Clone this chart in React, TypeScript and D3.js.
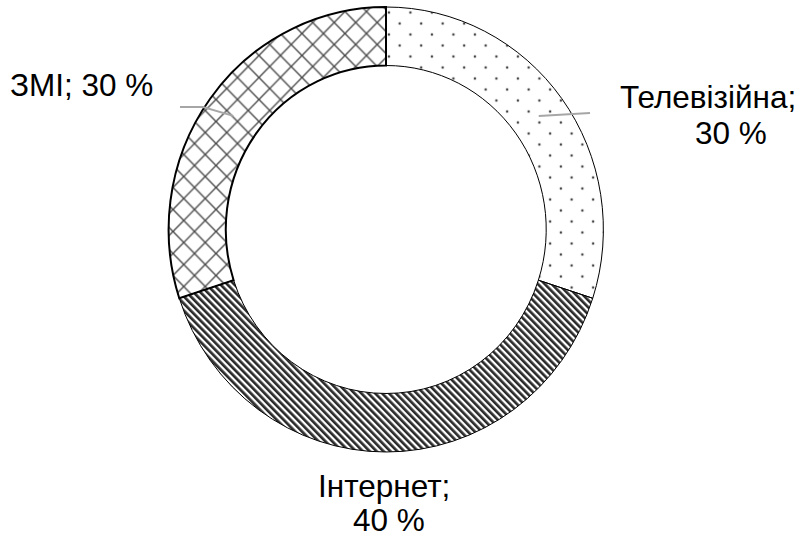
import React from "react";
import * as d3 from "d3";

const categories = ["Телевізійна", "Інтернет", "ЗМІ"];
const values = [30, 40, 30];
const patterns = ["dots", "stripes", "cross"];

const W = 801;
const H = 538;
const cx = 386;
const cy = 229.5;
const sx = 0.977;
const rOuter = 222.5;
const rInner = 164;

// label layout (screen coords): lines and their positions
const labelLayout = [
  { lines: [{ t: "Телевізійна;", x: 620, y: 108 }, { t: "30 %", x: 695, y: 144 }], leader: [[590, 113]] },
  { lines: [{ t: "Інтернет;", x: 318, y: 497 }, { t: "40 %", x: 353, y: 531 }], leader: null },
  { lines: [{ t: "ЗМІ; 30 %", x: 10, y: 96 }], leader: [[203, 107], [180, 107]] },
];

export default function App() {
  const pie = d3.pie<number>().sort(null).startAngle(0).endAngle(2 * Math.PI);
  const arcs = pie(values);
  const arcGen = d3.arc<d3.PieArcDatum<number>>().innerRadius(rInner).outerRadius(rOuter);
  const midR = (rInner + rOuter) / 2;

  const centroid = (a: d3.PieArcDatum<number>) => {
    const m = (a.startAngle + a.endAngle) / 2;
    return [cx + Math.sin(m) * midR * sx, cy - Math.cos(m) * midR];
  };

  const strokeW = [1, 1, 2];

  return (
    <svg width={W} height={H} style={{ position: "absolute", left: 0, top: 0, background: "#fff" }}
      fontFamily="'Liberation Sans', Arial, sans-serif">
      <defs>
        <pattern id="dots" patternUnits="userSpaceOnUse" width={22} height={22} x={3} y={3}>
          <circle cx={0} cy={0} r={1.3} fill="#444" />
          <circle cx={22} cy={0} r={1.3} fill="#444" />
          <circle cx={0} cy={22} r={1.3} fill="#444" />
          <circle cx={22} cy={22} r={1.3} fill="#444" />
          <circle cx={11} cy={11} r={1.3} fill="#444" />
        </pattern>
        <pattern id="stripes" patternUnits="userSpaceOnUse" width={5} height={5} patternTransform="rotate(-45)">
          <rect x={0} y={0} width={2.7} height={5} fill="#2a2a2a" />
        </pattern>
        <pattern id="cross" patternUnits="userSpaceOnUse" width={22} height={22} x={2} y={2}>
          <path d="M0,0L22,22M22,0L0,22" stroke="#4a4a4a" strokeWidth={1.4} fill="none" />
        </pattern>
      </defs>
      <rect width={W} height={H} fill="#fff" />
      <g transform={`translate(${cx},${cy}) scale(${sx},1)`}>
        {arcs.map((a, i) => (
          <path key={categories[i]} d={arcGen(a) || ""} fill={`url(#${patterns[i]})`}
            stroke="#000" strokeWidth={strokeW[i]} vectorEffect="non-scaling-stroke" />
        ))}
      </g>
      {arcs.map((a, i) => {
        const lay = labelLayout[i];
        if (!lay.leader) return null;
        const pts = [centroid(a), ...lay.leader];
        const line = d3.line()(pts as [number, number][]);
        return <path key={"l" + i} d={line || ""} stroke="#a6a6a6" strokeWidth={2} fill="none" />;
      })}
      {labelLayout.map((lay, i) =>
        lay.lines.map((ln, j) => (
          <text key={i + "-" + j} x={ln.x} y={ln.y} fontSize={31.5} fill="#000">{ln.t}</text>
        ))
      )}
    </svg>
  );
}
